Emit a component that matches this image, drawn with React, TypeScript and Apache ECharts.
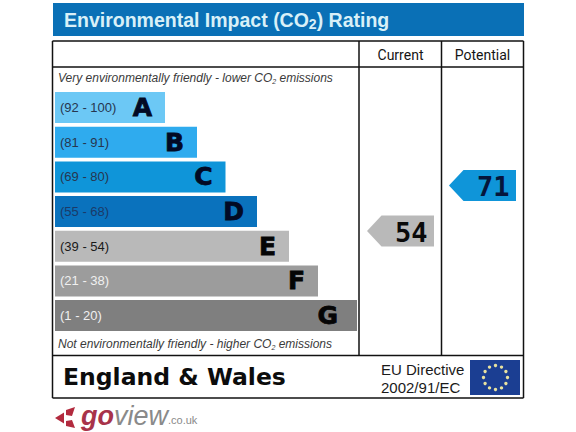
import React, { useEffect, useRef } from "react";
import * as echarts from "echarts";

const bandLetters = ["A", "B", "C", "D", "E", "F", "G"];
const bandRanges = ["(92 - 100)", "(81 - 91)", "(69 - 80)", "(55 - 68)", "(39 - 54)", "(21 - 38)", "(1 - 20)"];
const bandLengths = [110, 142, 170.5, 202, 234, 263, 302];
const bandColors = ["#6cc8f5", "#2fabee", "#0f95d9", "#0a72bd", "#b9b9b9", "#9c9c9c", "#7f7f7f"];
const rangeColors = ["#27364f", "#27364f", "#27364f", "#1b3a68", "#1a1a1a", "#f0f0f0", "#f0f0f0"];
const letterColors = ["#020a24", "#020a24", "#020a24", "#020a24", "#050505", "#050505", "#050505"];
const ratingColumns = ["Current", "Potential"];
const ratingValues = [54, 71];
const ratingColors = ["#b9b9b9", "#0f95d9"];
const ratingTextColors = ["#0a0a0a", "#05153c"];
const titleParts = ["Environmental Impact (CO", "2", ") Rating"];
const topNote = ["Very environmentally friendly - lower CO", "2", " emissions"];
const bottomNote = ["Not environmentally friendly - higher CO", "2", " emissions"];
const starCount = 12;

const FONT = "Liberation Sans, Arial, sans-serif";
const frameLine = { stroke: "#111111", lineWidth: 1.5 };

function line(x1: number, y1: number, x2: number, y2: number) {
  return { type: "line", shape: { x1, y1, x2, y2 }, style: frameLine, silent: true };
}

function note(parts: string[], y: number) {
  return {
    type: "text",
    x: 58,
    y,
    style: {
      text: `{a|${parts[0]}}{s|${parts[1]}}{a|${parts[2]}}`,
      rich: {
        a: { fontStyle: "italic", fontSize: 12, fontFamily: FONT, fill: "#3a3a3a" },
        s: { fontSize: 7, fontFamily: FONT, fontStyle: "italic", fill: "#3a3a3a", padding: [7, 0, 0, 0] },
      },
      verticalAlign: "middle",
    },
  };
}

function euStars() {
  return Array.from({ length: starCount }, (_, i) => {
    const a = (i / starCount) * Math.PI * 2;
    return {
      type: "circle",
      shape: { cx: 495.5 + Math.cos(a) * 12, cy: 377.5 + Math.sin(a) * 12, r: 1.7 },
      style: { fill: "#e8e2a0" },
    };
  });
}

export default function App() {
  const ref = useRef<HTMLDivElement>(null);
  useEffect(() => {
    const chart = echarts.init(ref.current!, null, { renderer: "svg" });
    chart.setOption({
      animation: false,
      backgroundColor: "#ffffff",
      grid: [
        { left: 55, top: 90.2, width: 302, height: 242.7 },
        { left: 359.5, top: 67, width: 164, height: 289 },
      ],
      xAxis: [
        { type: "value", gridIndex: 0, min: 0, max: 302, show: false },
        {
          type: "category",
          gridIndex: 1,
          position: "top",
          data: ratingColumns,
          axisLine: { show: false },
          axisTick: { show: false },
          axisLabel: { color: "#151515", fontFamily: "Roboto", fontSize: 14, margin: 5 },
        },
      ],
      yAxis: [
        { type: "category", gridIndex: 0, inverse: true, data: bandLetters, show: false },
        { type: "value", gridIndex: 1, min: 7.3, max: 115.3, show: false },
      ],
      series: [
        {
          type: "bar",
          barWidth: 31,
          data: bandLengths.map((v, i) => ({
            value: v,
            itemStyle: { color: bandColors[i] },
            label: { color: rangeColors[i] },
          })),
          label: {
            show: true,
            position: "insideLeft",
            distance: 5,
            fontFamily: FONT,
            fontSize: 13,
            formatter: (p: any) => bandRanges[p.dataIndex],
          },
        },
        {
          type: "bar",
          barWidth: 31,
          barGap: "-100%",
          itemStyle: { color: "transparent" },
          data: bandLengths.map((v, i) => ({
            value: v,
            label: {
              color: letterColors[i],
              textBorderColor: letterColors[i],
              distance: i === 6 ? 19 : 13,
            },
          })),
          label: {
            show: true,
            position: "insideRight",
            fontFamily: "DejaVu Sans",
            fontWeight: "bold",
            fontSize: 25,
            textBorderWidth: 0.8,
            formatter: (p: any) => p.name,
          },
        },
        {
          type: "custom",
          xAxisIndex: 1,
          yAxisIndex: 1,
          data: ratingValues.map((v, i) => [i, v]),
          renderItem: (params: any, api: any) => {
            const [cx, cy] = api.coord([api.value(0), api.value(1)]);
            const i = params.dataIndex;
            const h = 15.5;
            const color = ratingColors[i];
            return {
              type: "group",
              children: [
                {
                  type: "polygon",
                  shape: {
                    points: [
                      [cx - 33.5, cy],
                      [cx - 19, cy - h],
                      [cx + 33.5, cy - h],
                      [cx + 33.5, cy + h],
                      [cx - 19, cy + h],
                    ],
                  },
                  style: { fill: color },
                },
                {
                  type: "text",
                  x: cx + 27,
                  y: cy + 1,
                  style: {
                    text: String(api.value(1)),
                    fill: ratingTextColors[i],
                    font: "bold 27px 'DejaVu Sans Mono'",
                    textAlign: "right",
                    textVerticalAlign: "middle",
                    align: "right",
                    verticalAlign: "middle",
                  },
                },
              ],
            };
          },
        },
      ],
      graphic: [
        { type: "rect", shape: { x: 53, y: 3, width: 471, height: 33 }, style: { fill: "#0a70b6" } },
        {
          type: "text",
          x: 64,
          y: 20,
          style: {
            text: `{a|${titleParts[0]}}{s|${titleParts[1]}}{a|${titleParts[2]}}`,
            rich: {
              a: { fontFamily: FONT, fontWeight: "bold", fontSize: 19.5, fill: "#d9f0f8" },
              s: { fontFamily: FONT, fontWeight: "bold", fontSize: 14, fill: "#d9f0f8", padding: [8, 0, 0, 0] },
            },
            verticalAlign: "middle",
          },
        },
        line(52.5, 41, 523.5, 41),
        line(52.5, 67, 523.5, 67),
        line(52.5, 355.5, 523.5, 355.5),
        line(52.5, 398, 523.5, 398),
        line(52.5, 41, 52.5, 398),
        line(523.5, 41, 523.5, 398),
        line(359, 41, 359, 355.5),
        line(441.5, 41, 441.5, 355.5),
        note(topNote, 78),
        note(bottomNote, 344),
        {
          type: "text",
          x: 63,
          y: 377,
          style: { text: "England & Wales", font: "bold 23.5px 'DejaVu Sans'", fill: "#0c0c0c", verticalAlign: "middle" },
        },
        {
          type: "text",
          x: 381,
          y: 369,
          style: { text: "EU Directive", font: `15px ${FONT}`, fill: "#1a1a1a", verticalAlign: "middle" },
        },
        {
          type: "text",
          x: 381,
          y: 387,
          style: { text: "2002/91/EC", font: `15px ${FONT}`, fill: "#1a1a1a", verticalAlign: "middle" },
        },
        { type: "rect", shape: { x: 470, y: 360, width: 50, height: 35 }, style: { fill: "#1b3e92" } },
        ...euStars(),
        { type: "polygon", shape: { points: [[55, 418], [64, 412.5], [64, 423.5]] }, style: { fill: "#b22a3e" } },
        { type: "polygon", shape: { points: [[66, 410], [75, 407], [72, 416], [66, 415]] }, style: { fill: "#b22a3e" } },
        { type: "polygon", shape: { points: [[66, 421], [72, 420], [75, 428], [66, 426]] }, style: { fill: "#b22a3e" } },
        {
          type: "text",
          x: 81,
          y: 416,
          style: {
            text: "{g|go}{v|view}{c|.co.uk}",
            rich: {
              g: { fontFamily: FONT, fontStyle: "italic", fontWeight: "bold", fontSize: 27, fill: "#a8334a" },
              v: { fontFamily: FONT, fontStyle: "italic", fontSize: 27, fill: "#8a8a8a" },
              c: { fontFamily: FONT, fontSize: 11, fill: "#8a8a8a", padding: [8, 0, 0, 0] },
            },
            verticalAlign: "middle",
          },
        },
      ],
    });
    return () => chart.dispose();
  }, []);
  return <div ref={ref} style={{ position: "fixed", left: 0, top: 0, width: 576, height: 432 }} />;
}
